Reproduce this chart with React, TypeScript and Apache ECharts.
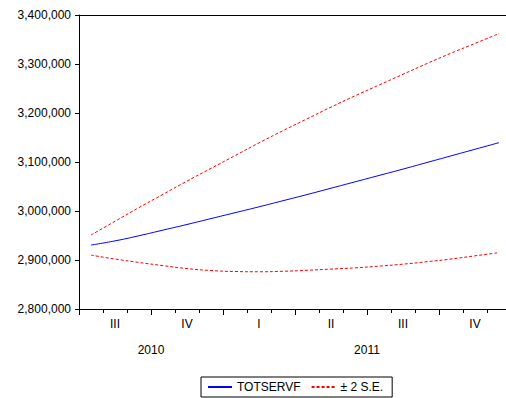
import React, { useEffect, useRef } from "react";
import * as echarts from "echarts";

const months = [
  "2010M07", "2010M08", "2010M09", "2010M10", "2010M11", "2010M12",
  "2011M01", "2011M02", "2011M03", "2011M04", "2011M05", "2011M06",
  "2011M07", "2011M08", "2011M09", "2011M10", "2011M11", "2011M12",
];
const forecast = [
  2930500, 2939000, 2949500, 2961000, 2972500, 2984500,
  2996500, 3008500, 3021000, 3033500, 3046500, 3059500,
  3072500, 3085500, 3099000, 3112500, 3126000, 3139500,
];
const upperBand = [
  2951000, 2979000, 3007000, 3034000, 3061000, 3087000,
  3113000, 3139000, 3164000, 3188000, 3212000, 3235000,
  3257000, 3279000, 3301000, 3322000, 3342000, 3362000,
];
const lowerBand = [
  2910000, 2902000, 2895000, 2888500, 2882500, 2878500,
  2876500, 2876000, 2877000, 2879000, 2881500, 2884000,
  2887500, 2891500, 2896500, 2902000, 2908500, 2915000,
];
const quarterLabels = ["III", "IV", "I", "II", "III", "IV"];
const yearLabels = ["2010", "2011"];
const yMin = 2800000;
const yMax = 3400000;
const yStep = 100000;

const FONT = "'Liberation Sans', Arial, sans-serif";

export default function App() {
  const ref = useRef<HTMLDivElement>(null);
  useEffect(() => {
    if (!ref.current) return;
    const chart = echarts.init(ref.current, undefined, { renderer: "svg" });
    const n = months.length;
    const yearCenter: Record<number, string> = {};
    yearLabels.forEach((y) => {
      const idx = months.map((m, i) => (m.startsWith(y) ? i : -1)).filter((i) => i >= 0);
      const c = (idx[0] + idx[idx.length - 1] + 1) / 2;
      yearCenter[c] = y;
    });
    const axisLine = { show: true, lineStyle: { color: "#000", width: 1 } };
    const labelStyle = { color: "#000", fontSize: 12, fontFamily: FONT };
    chart.setOption({
      animation: false,
      textStyle: { fontFamily: FONT },
      grid: { left: 79, top: 15, width: 432, height: 294, containLabel: false, outerBoundsMode: "none" },
      legend: {
        data: ["TOTSERVF", "± 2 S.E."],
        left: 201,
        top: 377,
        orient: "horizontal",
        itemWidth: 24,
        itemHeight: 12,
        itemGap: 10,
        padding: [4, 9, 4, 6],
        borderColor: "#000",
        borderWidth: 1,
        borderRadius: 0,
        itemStyle: { opacity: 0 },
        textStyle: { ...labelStyle },
      },
      xAxis: [
        {
          type: "category",
          data: months,
          boundaryGap: true,
          position: "bottom",
          axisLine,
          axisTick: { show: true, interval: 0, length: 4, lineStyle: { color: "#000" } },
          axisLabel: { show: false },
          splitLine: { show: false },
        },
        {
          type: "value",
          min: 0,
          max: n,
          interval: 3,
          position: "bottom",
          axisLine: { show: false },
          axisTick: { show: true, length: 6, lineStyle: { color: "#000" } },
          axisLabel: { show: false },
          splitLine: { show: false },
        },
        {
          type: "value",
          min: 0,
          max: n,
          interval: 1.5,
          position: "bottom",
          axisLine: { show: false },
          axisTick: { show: false },
          axisLabel: {
            ...labelStyle,
            margin: 9,
            formatter: (v: number) => (v % 3 === 1.5 ? quarterLabels[Math.floor(v / 3)] : ""),
          },
          splitLine: { show: false },
        },
        {
          type: "value",
          min: 0,
          max: n,
          interval: 1,
          position: "bottom",
          axisLine: { show: false },
          axisTick: { show: false },
          axisLabel: {
            ...labelStyle,
            margin: 35,
            formatter: (v: number) => yearCenter[v] ?? "",
          },
          splitLine: { show: false },
        },
        {
          type: "value",
          min: 0,
          max: n,
          position: "top",
          axisLine,
          axisTick: { show: false },
          axisLabel: { show: false },
          splitLine: { show: false },
        },
      ],
      yAxis: {
        type: "value",
        min: yMin,
        max: yMax,
        interval: yStep,
        axisLine,
        axisTick: { show: true, length: 4, lineStyle: { color: "#000" } },
        axisLabel: {
          ...labelStyle,
          margin: 8,
          formatter: (v: number) => v.toLocaleString("en-US"),
        },
        splitLine: { show: false },
      },
      series: [
        {
          name: "TOTSERVF",
          type: "line",
          xAxisIndex: 0,
          data: forecast,
          smooth: true,
          symbol: "none",
          lineStyle: { color: "#0000ff", width: 1 },
          itemStyle: { color: "#0000ff" },
        },
        {
          name: "± 2 S.E.",
          type: "line",
          xAxisIndex: 0,
          data: upperBand,
          smooth: true,
          symbol: "none",
          lineStyle: { color: "#ff0000", width: 1, type: [3, 2] },
          itemStyle: { color: "#ff0000" },
        },
        {
          name: "± 2 S.E.",
          type: "line",
          xAxisIndex: 0,
          data: lowerBand,
          smooth: true,
          symbol: "none",
          lineStyle: { color: "#ff0000", width: 1, type: [3, 2] },
          itemStyle: { color: "#ff0000" },
        },
      ],
    });
    return () => chart.dispose();
  }, []);
  return (
    <div
      ref={ref}
      style={{ position: "fixed", left: 0, top: 0, width: 506, height: 398, background: "#fff", overflow: "hidden" }}
    />
  );
}
